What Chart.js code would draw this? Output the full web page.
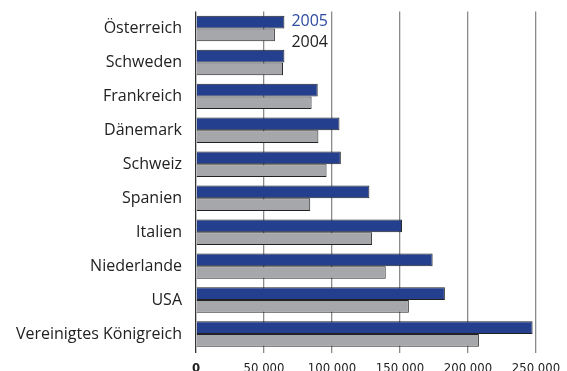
<!DOCTYPE html>
<html lang="de">
<head>
  <meta charset="UTF-8" />
  <title>Übernachtungen 2004 / 2005</title>
  <script src="https://cdn.jsdelivr.net/npm/chart.js"></script>
  <style>
    html, body { margin: 0; padding: 0; background: #fff; }
    #wrap { width: 567px; height: 371px; }
  </style>
</head>
<body>
  <div id="wrap"><canvas id="chart" width="567" height="371"></canvas></div>

  <script>
    // Länder von oben nach unten
    const countries = ['Österreich', 'Schweden', 'Frankreich', 'Dänemark', 'Schweiz',
      'Spanien', 'Italien', 'Niederlande', 'USA', 'Vereinigtes Königreich'];
    const values2005 = [65000, 65000, 89500, 105500, 106500, 127500, 151500, 174000, 183000, 247500];
    const values2004 = [58000, 64000, 85000, 90000, 96000, 84000, 129500, 139500, 156500, 208000];
    const seriesLabels = ['2005', '2004'];
    const xTicks = [0, 50000, 100000, 150000, 200000, 250000];

    const BLUE = '#243f8e';
    const GREY = '#a5a7aa';

    function fmt(v) {
      if (v === 0) return '0';
      return String(v).replace(/\B(?=(\d{3})+(?!\d))/g, ' ');
    }

    // Jahreszahlen rechts neben den obersten Balken
    const yearLabels = {
      id: 'yearLabels',
      afterDatasetsDraw(chart) {
        const top = chart.getDatasetMeta(0).data[0];
        if (!top) return;
        const ctx = chart.ctx;
        const x = top.x + 7;
        ctx.save();
        ctx.font = '16px "Open Sans", sans-serif';
        ctx.textAlign = 'left';
        ctx.textBaseline = 'middle';
        ctx.fillStyle = '#2d4a9f';
        ctx.fillText(seriesLabels[0], x, top.y - 1);
        ctx.fillStyle = '#222';
        ctx.fillText(seriesLabels[1], x, top.y + 20);
        ctx.restore();
      }
    };

    new Chart(document.getElementById('chart'), {
      type: 'bar',
      data: {
        labels: countries,
        datasets: [
          { label: seriesLabels[0], data: values2005, backgroundColor: BLUE },
          { label: seriesLabels[1], data: values2004, backgroundColor: GREY }
        ]
      },
      options: {
        indexAxis: 'y',
        responsive: false,
        animation: false,
        layout: { padding: { top: 11.5, right: 31, bottom: 0, left: 0 } },
        datasets: {
          bar: {
            borderColor: '#222',
            borderWidth: 1,
            borderSkipped: 'start',
            barPercentage: 1,
            categoryPercentage: 0.75
          }
        },
        plugins: {
          legend: { display: false },
          tooltip: { enabled: false }
        },
        scales: {
          x: {
            min: 0,
            max: 250000,
            afterBuildTicks(scale) { scale.ticks = xTicks.map(v => ({ value: v })); },
            afterFit(scale) {
              scale.height = 20;
              scale.paddingLeft = 0;
              scale.paddingRight = 0;
            },
            border: { display: false },
            grid: {
              color: ctx => ctx.tick && ctx.tick.value === 0 ? '#333' : '#8a8a8a',
              lineWidth: 1.3,
              tickLength: 2,
              drawOnChartArea: true
            },
            ticks: {
              padding: 8,
              color: '#222',
              maxRotation: 0,
              font: ctx => ({
                family: '"Liberation Sans Narrow", "DejaVu Sans Condensed", sans-serif',
                size: 13,
                weight: ctx.tick && ctx.tick.value === 0 ? 'bold' : 'normal'
              }),
              callback: v => fmt(v)
            }
          },
          y: {
            afterFit(scale) {
              scale.width = 196;
              scale.paddingTop = 0;
              scale.paddingBottom = 0;
            },
            border: { display: false },
            grid: { display: false },
            ticks: {
              padding: 6,
              color: '#222',
              font: { family: '"Open Sans", sans-serif', size: 16 }
            }
          }
        }
      },
      plugins: [yearLabels]
    });
  </script>
</body>
</html>
